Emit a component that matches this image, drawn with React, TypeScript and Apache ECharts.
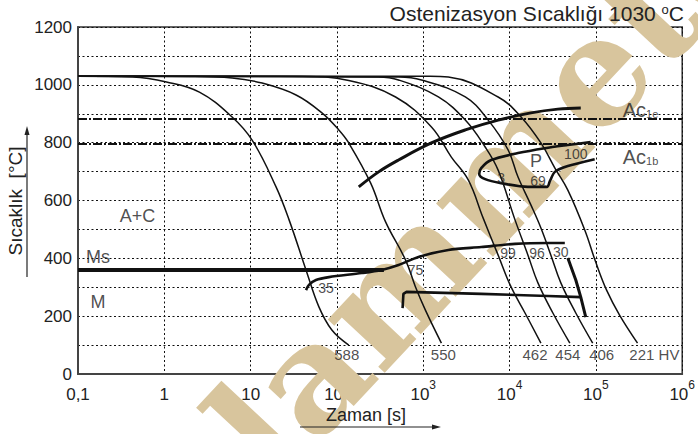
import React, { useEffect, useRef } from "react";
import * as echarts from "echarts";

// Cooling curves [time s, temperature °C]
const c588 = [[0.1,1030],[0.43,1027],[1.06,1010],[2.55,975],[6.1,889],[10.4,809],[19.7,647],[27.9,533],[43.8,360],[61.8,232],[87.3,152],[137,100]];
const c550 = [[0.1,1030],[2,1029],[6.1,1024],[13.6,1006],[33.6,965],[67,903],[105,844],[137,799],[246,660],[366,526],[624,394],[813,301],[1059,221],[1622,107]];
const c462 = [[0.1,1030],[40,1029],[137,1015],[478,958],[1244,854],[2115,750],[3321,671],[4945,539],[7370,411],[10140,308],[15100,211],[23070,107]];
const c454 = [[0.1,1030],[300,1027],[517,1017],[1497,958],[3069,878],[5215,785],[7370,705],[11560,533],[16330,411],[21300,315],[31750,211],[49890,107]];
const c406 = [[0.1,1030],[517,1027],[953,1017],[3069,958],[5650,878],[9610,775],[12530,681],[17700,584],[23070,505],[30100,411],[39260,315],[58500,211],[91800,107]];
const c221 = [[0.1,1030],[1200,1030],[1954,1027],[7370,958],[13580,889],[23070,799],[33500,712],[47300,636],[74300,498],[99500,387],[133000,290],[188000,204],[303600,107]];
const coolingCurves = [c588, c550, c462, c454, c406, c221];

// Transformation lines
const ferriteStart = [[179,647],[304,699],[517,740],[1244,799],[3069,844],[7370,878],[17700,903],[36200,916],[66800,920]];
const pearliteLoop = [[87100,802],[47300,792],[25650,781],[12530,764],[6120,740],[4690,712],[4450,692],[5215,674],[7980,660],[16330,647],[27100,647],[29300,667],[33500,699],[47300,719],[96800,743]];
const msLine = [[0.1,360],[350,360]];
const bainiteStart = [[43.8,290],[47.4,308],[57.1,325],[80.7,335],[194,349],[330,360],[517,377],[881,405],[1954,429],[4690,439],[11560,450],[27800,453],[43630,453]];
const bainiteFinish = [[576,228],[589,277],[640,284],[4690,277],[27800,270],[66800,266]];
const bainiteEnd30 = [[47300,401],[58500,325],[66800,266],[76300,197]];
const ac1e = [[0.1,882],[1e6,882]];
const ac1b = [[0.1,795],[1e6,795]];

// Hardness labels at bottom of cooling curves
const hvTexts = ["588","550","462","454","406","221 HV"];
const hvTimes = [130,1710,19680,47300,116700,476000];
const hvTemps = [66,66,66,66,66,66];

// Phase-fraction and region labels
const noteTexts = ["A+C","Ms","M","35","75","99","96","30","3","69","P","100"];
const noteTimes = [0.49,0.17,0.17,74.5,813,9610,20750,39260,7980,21300,20300,58500];
const noteTemps = [546,405,249,297,360,418,418,422,678,667,737,761];
const noteSizes = [18,18,18,14,14,14,14,14,14,14,18,14];

const acTexts = ["Ac{s|1e}","Ac{s|1b}"];
const acTimes = [328800,328800];
const acTemps = [913,752];

const xTickLabels = ["0,1","1","10","10^2","10^3","10^4","10^5","10^6"];
const yTickLabels = ["0","200","400","600","800","1000","1200"];

const FONT = "Liberation Sans, Arial, Helvetica, sans-serif";

export default function App() {
  const ref = useRef<HTMLDivElement>(null);
  useEffect(() => {
    document.body.style.margin = "0";
    const chart = echarts.init(ref.current!, null, { renderer: "svg" });
    const lineS = (data: number[][], width: number, extra: any = {}) => ({
      type: "line", data, showSymbol: false, symbol: "none", smooth: 0.4,
      lineStyle: { color: "#111", width }, silent: true, z: 3, ...extra,
    });
    const series: any[] = [];
    coolingCurves.forEach((c) => series.push(lineS(c, 1.5)));
    series.push(lineS(ac1e, 2, { smooth: false, lineStyle: { color: "#111", width: 2, type: [9, 2, 2, 2] } }));
    series.push(lineS(ac1b, 2, { smooth: false, lineStyle: { color: "#111", width: 2, type: [9, 2, 2, 2] } }));
    series.push(lineS(ferriteStart, 3));
    series.push(lineS(pearliteLoop, 2.6, { smooth: 0.3 }));
    series.push(lineS(msLine, 4, { smooth: false }));
    series.push(lineS(bainiteStart, 2.6, { smooth: 0.3 }));
    series.push(lineS(bainiteFinish, 2.6, { smooth: false }));
    series.push(lineS(bainiteEnd30, 3, { smooth: false }));
    const pts: any[] = [];
    hvTexts.forEach((t, i) => pts.push({ value: [hvTimes[i], hvTemps[i]], label: { formatter: t, fontSize: 15 } }));
    noteTexts.forEach((t, i) => pts.push({ value: [noteTimes[i], noteTemps[i]], label: { formatter: t, fontSize: noteSizes[i] } }));
    acTexts.forEach((t, i) => pts.push({ value: [acTimes[i], acTemps[i]], label: { formatter: t, fontSize: 20 } }));
    series.push({
      type: "scatter", data: pts, symbolSize: 1, silent: true, z: 10,
      itemStyle: { color: "rgba(0,0,0,0)" },
      label: {
        show: true, position: "inside", color: "#222", fontFamily: FONT,
        rich: { s: { fontSize: 11, fontFamily: FONT, color: "#222", verticalAlign: "bottom", lineHeight: 10, padding: [8, 0, 0, 0] } },
      },
    });

    chart.setOption({
      animation: false,
      grid: { left: 78, right: 13, top: 27, bottom: 60, show: true, borderColor: "#333", borderWidth: 1.5, backgroundColor: "transparent" },
      xAxis: {
        type: "log", logBase: 10, min: 0.1, max: 1e6,
        axisLine: { show: true, lineStyle: { color: "#444", width: 2 } },
        axisTick: { show: false },
        splitLine: { show: true, lineStyle: { color: "#111", width: 1, type: [2, 2.5] } },
        axisLabel: {
          margin: 5, color: "#222", fontFamily: FONT,
          formatter: (v: number) => {
            const k = Math.round(Math.log10(v));
            const lab = xTickLabels[k + 1] || "";
            const parts = lab.split("^");
            return parts.length > 1 ? `{n|${parts[0]}}{s|${parts[1]}}` : `{n|${lab}}`;
          },
          rich: {
            n: { fontSize: 17, lineHeight: 24, verticalAlign: "bottom", fontFamily: FONT, color: "#222" },
            s: { fontSize: 12, lineHeight: 12, verticalAlign: "top", fontFamily: FONT, color: "#222" },
          },
        },
      },
      yAxis: {
        type: "value", min: 0, max: 1200, interval: 100,
        axisLine: { show: true, lineStyle: { color: "#444", width: 2 } },
        axisTick: { show: false },
        splitLine: { show: true, lineStyle: { color: "#111", width: 1, type: [2, 2.5] } },
        axisLabel: {
          margin: 6, fontSize: 17, color: "#222", fontFamily: FONT,
          formatter: (v: number) => (yTickLabels.includes(String(v)) ? String(v) : ""),
        },
      },
      graphic: [
        {
          type: "text", x: 478, y: 195, rotation: 0.82, z: 1, silent: true,
          style: { text: "plammeter", fill: "#d8c59d", font: "bold 150px 'DejaVu Serif', serif", textAlign: "center", textVerticalAlign: "middle" },
        },
        {
          type: "text", x: 684, y: 13, z: 20,
          style: {
            text: "Ostenizasyon Sıcaklığı 1030 {s|o}C", fill: "#222", font: `21px ${FONT}`, textAlign: "right", textVerticalAlign: "middle",
            rich: { s: { fontSize: 13, verticalAlign: "top", lineHeight: 13, fontFamily: FONT, fill: "#222" } },
          } as any,
        },
        {
          type: "text", x: 15, y: 201, rotation: Math.PI / 2, z: 20,
          style: { text: "Sıcaklık  [°C]", fill: "#222", font: `19px ${FONT}`, textAlign: "center", textVerticalAlign: "middle" },
        },
        { type: "line", z: 20, shape: { x1: 27, y1: 277, x2: 27, y2: 133 }, style: { stroke: "#222", lineWidth: 1.2 } },
        { type: "polygon", z: 20, shape: { points: [[27, 126], [24.5, 135], [29.5, 135]] }, style: { fill: "#222" } },
        {
          type: "text", x: 366, y: 415, z: 20,
          style: { text: "Zaman [s]", fill: "#222", font: `18px ${FONT}`, textAlign: "center", textVerticalAlign: "middle" },
        },
        { type: "line", z: 20, shape: { x1: 300, y1: 427, x2: 434, y2: 427 }, style: { stroke: "#222", lineWidth: 1.2 } },
        { type: "polygon", z: 20, shape: { points: [[441, 427], [432, 424.5], [432, 429.5]] }, style: { fill: "#222" } },
      ],
      series,
    });
    return () => chart.dispose();
  }, []);
  return <div ref={ref} style={{ width: 698, height: 434 }} />;
}
